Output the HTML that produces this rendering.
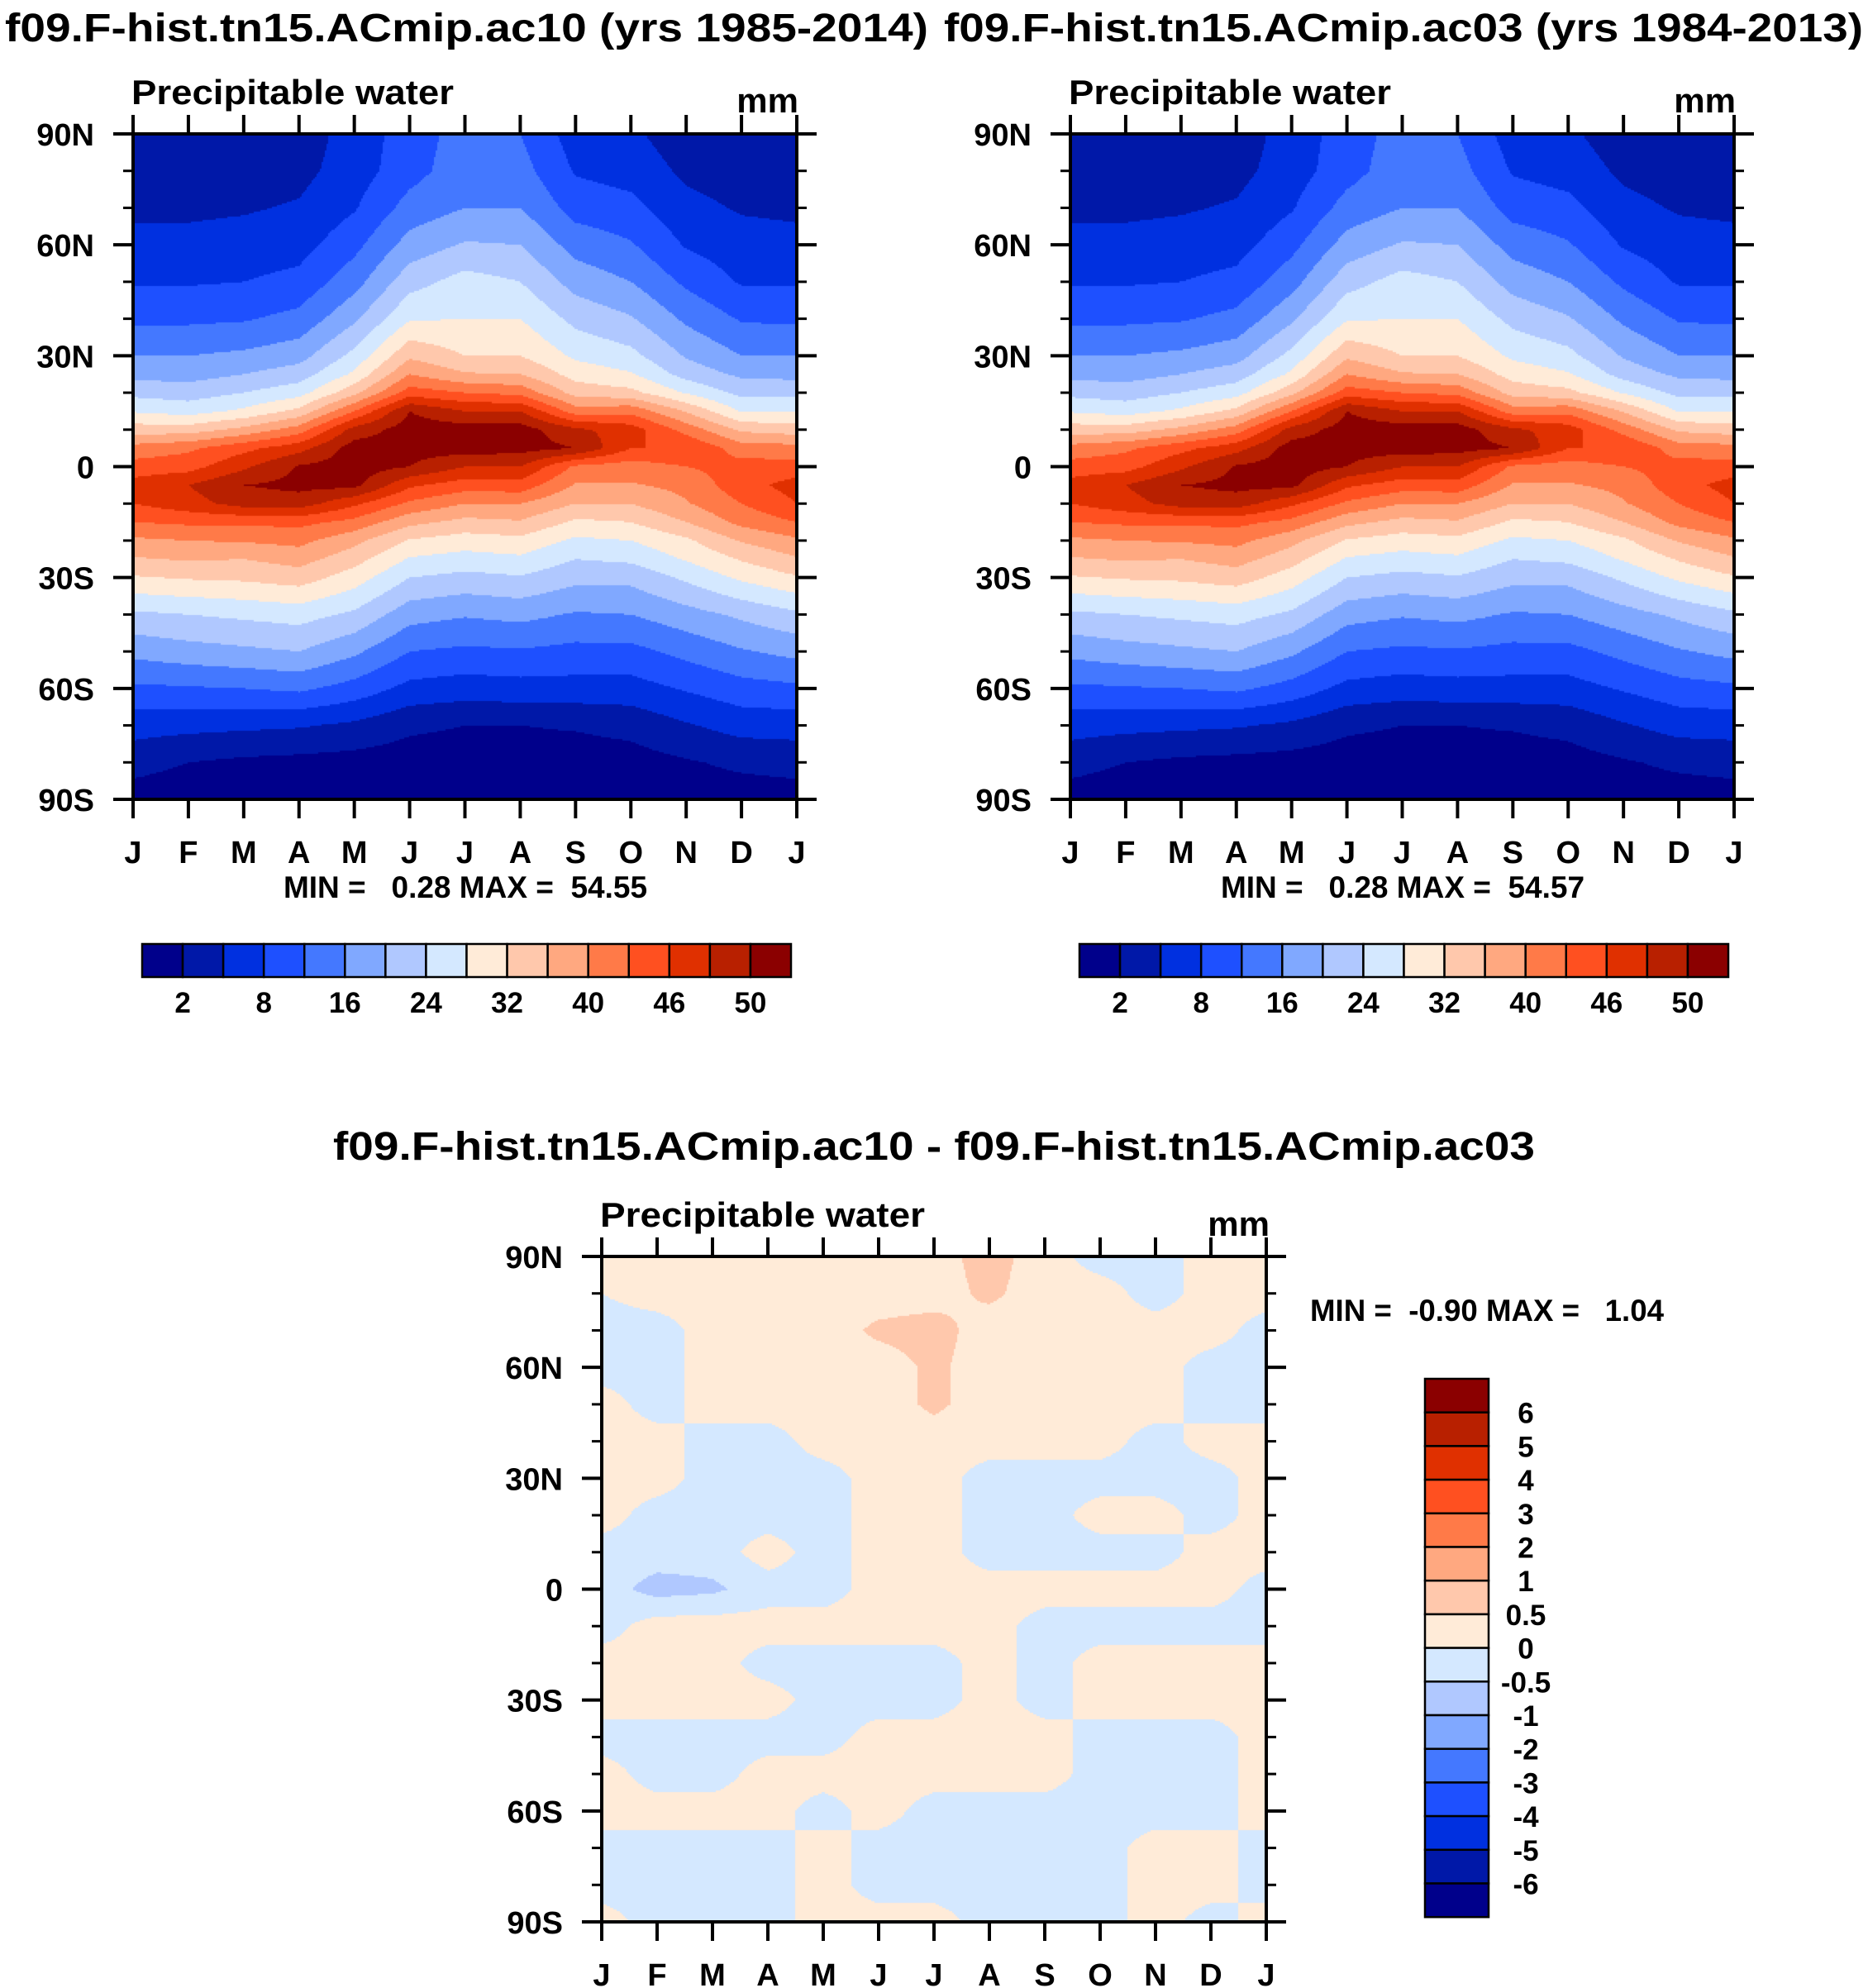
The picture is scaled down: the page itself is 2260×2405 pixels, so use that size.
<!DOCTYPE html>
<html><head><meta charset="utf-8">
<style>
html,body{margin:0;padding:0;background:#fff;}
#wrap{position:relative;width:2260px;height:2405px;overflow:hidden;background:#fff;}
canvas{position:absolute;}
svg{position:absolute;left:0;top:0;}
text{font-family:"Liberation Sans",Arial,sans-serif;font-weight:bold;fill:#000;}
</style></head>
<body>
<div id="wrap">
<canvas id="c1" style="left:161px;top:162px" width="803" height="805"></canvas>
<canvas id="c2" style="left:1295px;top:162px" width="803" height="805"></canvas>
<canvas id="c3" style="left:728px;top:1520px" width="804" height="805"></canvas>
<svg id="ov" width="2260" height="2405"></svg>
</div>
<script>
// ---------- data ----------
const months = ["J","F","M","A","M","J","J","A","S","O","N","D","J"];
const latTicks = ["90N","60N","30N","0","30S","60S","90S"];
const fieldLats = [90,80,70,60,50,40,30,25,20,15,10,5,0,-5,-10,-15,-20,-25,-30,-40,-50,-60,-70,-80,-90];
// precipitable water, expressed as contour-band index (0..16), one row per month Jan..Dec
const pwAc10 = [
[1.3,1.5,1.8,2.3,2.9,3.8,5.0,5.7,6.7,7.9,9.5,11.4,12.4,13.4,13.0,12.0,10.8,9.9,8.9,6.8,5.3,3.8,2.4,1.4,0.5],
[1.3,1.5,1.8,2.3,2.9,3.8,5.0,5.6,6.5,7.6,9.5,11.8,12.6,14.0,13.6,12.2,11.0,10.1,9.1,7.0,5.6,3.9,2.3,1.0,0.3],
[1.3,1.5,1.9,2.4,3.0,3.9,5.2,6.0,7.0,8.2,10.3,12.7,13.8,15.0,14.4,12.2,11.1,10.0,9.2,7.2,5.8,4.0,2.2,0.8,0.3],
[1.4,1.7,2.1,2.6,3.3,4.3,5.6,6.5,7.6,9.3,11.5,13.6,15.1,15.3,14.5,12.3,11.3,10.4,9.5,7.4,6.0,4.2,2.1,0.7,0.3],
[2.5,2.5,2.9,3.7,4.6,5.8,7.3,8.2,9.7,12.0,14.4,15.5,15.5,15.3,13.2,11.7,10.3,9.4,8.5,6.8,5.2,3.6,1.8,0.6,0.3],
[3.4,3.6,4.4,5.4,6.6,7.9,9.8,11.0,12.5,15.0,15.5,15.4,15.0,13.2,11.8,10.3,8.9,7.9,7.0,5.4,4.0,2.7,1.2,0.5,0.3],
[4.5,4.6,5.0,6.1,7.4,8.0,9.0,10.1,12.0,14.0,15.5,15.5,14.0,12.5,11.0,9.7,8.5,7.6,6.7,5.1,3.8,2.5,1.0,0.5,0.3],
[4.0,4.4,5.0,6.0,7.0,8.0,9.0,10.0,11.7,14.0,15.5,15.4,14.0,12.6,11.0,9.9,8.7,7.8,6.9,5.3,3.9,2.6,1.0,0.5,0.3],
[2.5,2.9,3.6,4.6,5.6,6.7,7.8,8.6,9.6,11.5,14.2,15.0,11.8,10.9,10.0,8.8,7.8,7.0,6.3,4.9,3.7,2.6,1.1,0.5,0.3],
[2.2,2.6,3.3,4.1,5.0,6.1,7.3,8.1,9.3,11.7,13.5,13.0,11.5,10.9,10.0,9.0,8.0,7.2,6.3,5.0,3.7,2.6,1.3,0.6,0.4],
[1.4,1.8,2.3,2.9,3.8,4.8,5.9,6.6,7.9,9.9,11.6,13.0,12.0,11.3,10.9,10.0,8.8,8.1,7.2,5.6,4.3,3.1,1.9,0.9,0.5],
[1.3,1.5,1.9,2.4,2.9,3.9,5.0,5.8,6.7,7.9,9.8,11.5,12.4,12.6,12.0,11.3,10.1,9.1,8.2,6.2,4.9,3.6,2.4,1.2,0.5]
];
const pwAc03 = [
[1.3,1.5,1.8,2.3,2.9,3.8,5.0,5.7,6.7,7.9,9.5,11.4,12.4,13.4,13.0,12.0,10.8,9.9,8.9,6.8,5.3,3.8,2.4,1.4,0.5],
[1.3,1.5,1.8,2.3,2.9,3.8,5.0,5.6,6.5,7.6,9.5,11.8,12.6,14.0,13.6,12.2,11.0,10.1,9.1,7.0,5.6,3.9,2.3,1.0,0.3],
[1.3,1.5,1.9,2.4,3.0,3.9,5.2,6.0,7.0,8.2,10.3,12.7,13.8,15.0,14.4,12.2,11.1,10.0,9.2,7.2,5.8,4.0,2.2,0.8,0.3],
[1.4,1.7,2.1,2.6,3.3,4.3,5.6,6.5,7.6,9.3,11.5,13.6,15.1,15.3,14.5,12.3,11.3,10.4,9.5,7.4,6.0,4.2,2.1,0.7,0.3],
[2.5,2.5,2.9,3.7,4.6,5.8,7.3,8.2,9.7,12.0,14.4,15.5,15.5,15.3,13.2,11.7,10.3,9.4,8.5,6.8,5.2,3.6,1.8,0.6,0.3],
[3.4,3.6,4.4,5.4,6.6,7.9,9.8,11.0,12.5,15.0,15.5,15.4,15.0,13.2,11.8,10.3,8.9,7.9,7.0,5.4,4.0,2.7,1.2,0.5,0.3],
[4.5,4.6,5.0,6.1,7.4,8.0,9.0,10.1,12.0,14.0,15.5,15.5,14.0,12.5,11.0,9.7,8.5,7.6,6.7,5.1,3.8,2.5,1.0,0.5,0.3],
[4.0,4.4,5.0,6.0,7.0,8.0,9.0,10.0,11.7,14.0,15.5,15.4,14.0,12.6,11.0,9.9,8.7,7.8,6.9,5.3,3.9,2.6,1.0,0.5,0.3],
[2.5,2.9,3.6,4.6,5.6,6.7,7.8,8.6,9.6,11.5,14.2,15.0,11.8,10.9,10.0,8.8,7.8,7.0,6.3,4.9,3.7,2.6,1.1,0.5,0.3],
[2.2,2.6,3.3,4.1,5.0,6.1,7.3,8.1,9.3,11.7,13.5,13.0,11.5,10.9,10.0,9.0,8.0,7.2,6.3,5.0,3.7,2.6,1.3,0.6,0.4],
[1.4,1.8,2.3,2.9,3.8,4.8,5.9,6.6,7.9,9.9,11.6,13.0,12.0,11.3,10.9,10.0,8.8,8.1,7.2,5.6,4.3,3.1,1.9,0.9,0.5],
[1.3,1.5,1.9,2.4,2.9,3.9,5.0,5.8,6.7,7.9,9.8,11.5,12.4,12.6,12.0,11.3,10.1,9.1,8.2,6.2,4.9,3.6,2.4,1.2,0.5]
];
const diffLats = [90,80,70,60,50,40,30,20,10,0,-10,-20,-30,-40,-50,-60,-70,-80,-90];
// difference ac10-ac03 (mm), columns J..J (13 ticks)
const diffVals = [
[0.25,0.25,0.25,0.25,0.25,0.25,0.3,0.7,0.25,-0.25,-0.25,0.25,0.25],
[0.0,0.25,0.25,0.25,0.25,0.25,0.3,0.6,0.25,0.25,-0.25,0.25,0.25],
[-0.25,-0.25,0.25,0.25,0.25,0.6,0.7,0.25,0.25,0.25,0.25,0.25,-0.25],
[-0.25,-0.25,0.25,0.25,0.25,0.25,0.6,0.25,0.25,0.25,0.25,-0.25,-0.25],
[0.25,-0.25,0.25,0.25,0.25,0.25,0.6,0.25,0.25,0.25,0.25,-0.25,-0.25],
[0.25,0.25,-0.25,-0.25,0.25,0.25,0.25,0.25,0.25,0.25,-0.25,0.25,0.25],
[0.25,0.25,-0.25,-0.25,-0.25,0.25,0.25,-0.25,-0.25,-0.25,-0.25,-0.25,0.25],
[0.25,-0.25,-0.25,-0.25,-0.25,0.25,0.25,-0.25,-0.25,0.25,0.25,-0.25,0.25],
[-0.25,-0.25,-0.25,0.25,-0.25,0.25,0.25,-0.25,-0.25,-0.25,-0.25,0.25,0.25],
[-0.25,-0.7,-0.6,-0.25,-0.25,0.25,0.25,0.25,0.25,0.25,0.25,0.25,-0.25],
[-0.25,0.25,0.25,0.25,0.25,0.25,0.25,0.25,-0.25,-0.25,-0.25,-0.25,-0.25],
[0.25,0.25,0.25,-0.25,-0.25,-0.25,-0.25,0.25,-0.25,0.25,0.25,0.25,0.25],
[0.25,0.25,0.25,0.25,-0.25,-0.25,-0.25,0.25,-0.25,0.25,0.25,0.25,0.25],
[-0.25,-0.25,-0.25,-0.25,-0.25,0.25,0.25,0.25,0.25,-0.25,-0.25,-0.25,0.25],
[0.25,-0.25,-0.25,0.25,0.25,0.25,0.25,0.25,0.25,-0.25,-0.25,-0.25,0.25],
[0.25,0.25,0.25,0.25,-0.25,0.25,-0.25,-0.25,-0.25,-0.25,-0.25,-0.25,0.25],
[-0.25,-0.25,-0.25,-0.25,0.25,-0.25,-0.25,-0.25,-0.25,-0.25,0.25,0.25,-0.25],
[-0.25,-0.25,-0.25,-0.25,0.25,-0.25,-0.25,-0.25,-0.25,-0.25,0.25,0.25,-0.25],
[0.25,-0.25,-0.25,-0.25,0.25,0.25,0.25,-0.25,-0.25,-0.25,0.25,-0.25,0.25]
];
const topBarLabels = ["2","8","16","24","32","40","46","50"];
const diffBarLabels = ["6","5","4","3","2","1","0.5","0","-0.5","-1","-2","-3","-4","-5","-6"];
const palette = ["#00008B","#0018A8","#0030E0","#1E50FF","#4478FF","#80A8FF","#B0C8FF","#D4E8FF","#FFEBD8","#FFC8AC","#FFA880","#FF7A48","#FF5020","#E03000","#B82000","#8B0000"];

// ---------- helpers ----------
function latIndex(lats, lat){
  for(let i=0;i<lats.length-1;i++){ if(lat<=lats[i] && lat>=lats[i+1]) return [i,(lats[i]-lat)/(lats[i]-lats[i+1])]; }
  return [lats.length-2,1];
}
function drawField(canvasId, data){
  const cv=document.getElementById(canvasId), ctx=cv.getContext('2d');
  const W=cv.width,H=cv.height,st=2;
  for(let py=0;py<H;py+=st){
    const lat=90-180*(py+st/2)/H; const [li,lf]=latIndex(fieldLats,lat);
    for(let px=0;px<W;px+=st){
      const m=12*(px+st/2)/W; const mi=Math.floor(m)%12, mf=m-Math.floor(m), mj=(mi+1)%12;
      const a=data[mi][li]*(1-lf)+data[mi][li+1]*lf;
      const b=data[mj][li]*(1-lf)+data[mj][li+1]*lf;
      const v=a*(1-mf)+b*mf;
      const k=Math.max(0,Math.min(15,Math.floor(v)));
      ctx.fillStyle=palette[k]; ctx.fillRect(px,py,st,st);
    }
  }
}
function drawDiff(canvasId){
  const cv=document.getElementById(canvasId), ctx=cv.getContext('2d');
  const W=cv.width,H=cv.height,st=2;
  for(let py=0;py<H;py+=st){
    const lat=90-180*(py+st/2)/H; const [li,lf]=latIndex(diffLats,lat);
    for(let px=0;px<W;px+=st){
      const m=12*(px+st/2)/W; const mi=Math.min(11,Math.floor(m)), mf=m-mi;
      const a=diffVals[li][mi]*(1-lf)+diffVals[li+1][mi]*lf;
      const b=diffVals[li][mi+1]*(1-lf)+diffVals[li+1][mi+1]*lf;
      const v=a*(1-mf)+b*mf;
      let k = v>1?10 : v>0.5?9 : v>0?8 : v>-0.5?7 : v>-1?6 : 5;
      ctx.fillStyle=palette[k]; ctx.fillRect(px,py,st,st);
    }
  }
}
drawField('c1',pwAc10);
drawField('c2',pwAc03);
drawDiff('c3');

const NS="http://www.w3.org/2000/svg";
const ov=document.getElementById('ov');
function mk(tag,attrs,parent){const e=document.createElementNS(NS,tag);for(const k in attrs)e.setAttribute(k,attrs[k]);(parent||ov).appendChild(e);return e;}
function txt(x,y,s,size,anchor,name,extra){
  const t=mk('text',Object.assign({x:x,y:y,'font-size':size,'text-anchor':anchor||'start'},extra||{}));
  t.textContent=s;
  
  
  return t;
}
function axes(x0,y0,w,h,pref){
  const g=mk('g',{});
  
  
  mk('rect',{x:x0,y:y0,width:w,height:h,fill:'none',stroke:'#000','stroke-width':4},g);
  for(let i=0;i<months.length;i++){
    const x=x0+w*i/12;
    mk('line',{x1:x,y1:y0,x2:x,y2:y0-23,stroke:'#000','stroke-width':4},g);
    mk('line',{x1:x,y1:y0+h,x2:x,y2:y0+h+23,stroke:'#000','stroke-width':4},g);
    txt(x,y0+h+77,months[i],38,'middle',pref+'-x-tick-label');
  }
  for(let lat=90;lat>=-90;lat-=10){
    const y=y0+h*(90-lat)/180; const major=(lat%30===0); const L=major?24:12;
    mk('line',{x1:x0,y1:y,x2:x0-L,y2:y,stroke:'#000','stroke-width':major?4:3},g);
    mk('line',{x1:x0+w,y1:y,x2:x0+w+L,y2:y,stroke:'#000','stroke-width':major?4:3},g);
  }
  for(let i=0;i<latTicks.length;i++){
    const y=y0+h*i/6;
    txt(x0-47,y+14,latTicks[i],38,'end',pref+'-y-tick-label');
  }
}
function hbar(x0,y0,w,h,pref){
  const bw=w/16;
  for(let k=0;k<16;k++){
    const r=mk('rect',{x:x0+k*bw,y:y0,width:bw,height:h,fill:palette[k],stroke:'#000','stroke-width':2.5});
    
    
  }
  for(let i=0;i<topBarLabels.length;i++){
    txt(x0+bw*(1+2*i),y0+h+43,topBarLabels[i],35,'middle',pref+'-colorbar-label');
  }
}
// top-left panel
txt(6,50,"f09.F-hist.tn15.ACmip.ac10 (yrs 1985-2014)",48,'start','title-ac10',{textLength:1117,lengthAdjust:'spacingAndGlyphs'});
txt(159,126,"Precipitable water",42,'start','subtitle-ac10',{textLength:390,lengthAdjust:'spacingAndGlyphs'});
txt(966,136,"mm",42,'end','units-ac10');
axes(161,162,803,805,'ac10');
txt(563,1086,"MIN =   0.28 MAX =  54.55",37,'middle','minmax-ac10',{'xml:space':'preserve',style:'white-space:pre'});
hbar(172,1142,785,40,'ac10');
// top-right panel
txt(1142,50,"f09.F-hist.tn15.ACmip.ac03 (yrs 1984-2013)",48,'start','title-ac03',{textLength:1112,lengthAdjust:'spacingAndGlyphs'});
txt(1293,126,"Precipitable water",42,'start','subtitle-ac03',{textLength:390,lengthAdjust:'spacingAndGlyphs'});
txt(2100,136,"mm",42,'end','units-ac03');
axes(1295,162,803,805,'ac03');
txt(1697,1086,"MIN =   0.28 MAX =  54.57",37,'middle','minmax-ac03',{'xml:space':'preserve',style:'white-space:pre'});
hbar(1306,1142,785,40,'ac03');
// bottom diff panel
txt(1130,1403,"f09.F-hist.tn15.ACmip.ac10 - f09.F-hist.tn15.ACmip.ac03",48,'middle','title-diff',{textLength:1454,lengthAdjust:'spacingAndGlyphs'});
txt(726,1484,"Precipitable water",42,'start','subtitle-diff',{textLength:393,lengthAdjust:'spacingAndGlyphs'});
txt(1536,1495,"mm",42,'end','units-diff');
axes(728,1520,804,805,'diff');
txt(1585,1598,"MIN =  -0.90 MAX =   1.04",37,'start','minmax-diff',{'xml:space':'preserve',style:'white-space:pre',textLength:428,lengthAdjust:'spacingAndGlyphs'});
(function(){
  const x0=1724,y0=1668,w=77,bh=40.7;
  for(let k=0;k<16;k++){
    const r=mk('rect',{x:x0,y:y0+k*bh,width:w,height:bh,fill:palette[15-k],stroke:'#000','stroke-width':2.5});
    
    
  }
  for(let i=0;i<diffBarLabels.length;i++){
    txt(1846,y0+bh*(i+1)+13,diffBarLabels[i],35,'middle','diff-colorbar-label');
  }
})();
</script>
</body></html>
